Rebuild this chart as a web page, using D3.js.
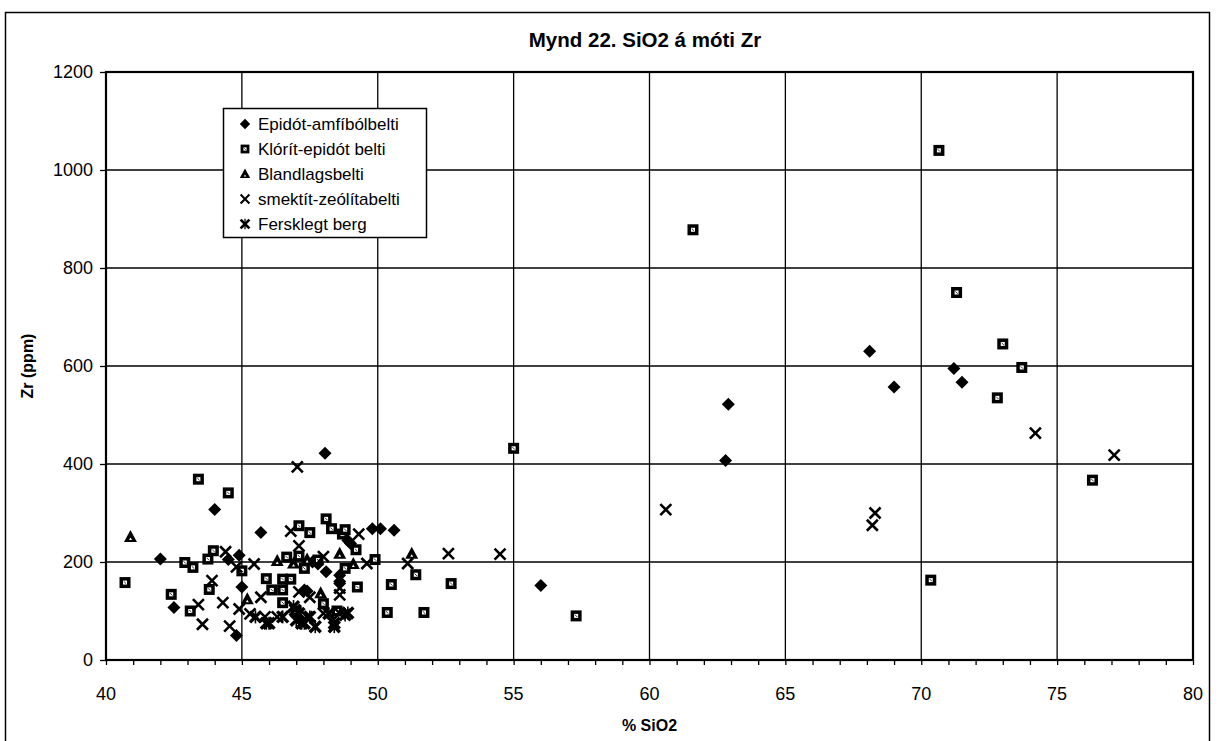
<!DOCTYPE html>
<html><head><meta charset="utf-8">
<script src="https://cdn.jsdelivr.net/npm/d3@7/dist/d3.min.js"></script>
<style>body{margin:0;background:#fff}svg{display:block}</style>
</head><body>
<svg id="c" width="1219" height="741"></svg>
<script>
const title = "Mynd 22. SiO2 á móti Zr";
const xLabel = "% SiO2";
const yLabel = "Zr (ppm)";
const xTicks = [40,45,50,55,60,65,70,75,80];
const yTicks = [0,200,400,600,800,1000,1200];
const seriesNames = ["Epidót-amfíbólbelti","Klórít-epidót belti","Blandlagsbelti","smektít-zeólítabelti","Fersklegt berg"];

const epidot = [[42.0,206],[42.5,107],[44.0,307],[44.5,205],[44.9,214],[45.0,149],[44.8,50],[45.7,260],[47.4,141],[47.6,200],[47.8,196],[48.1,180],[48.06,422],[48.6,173],[48.6,160],[48.9,244],[49.0,238],[49.8,268],[50.1,268],[50.6,265],[47.3,143],[56.0,152],[62.9,522],[62.8,407],[68.1,630],[69.0,557],[71.2,595],[71.5,567]];
const klorit = [[40.7,158],[42.4,134],[42.9,199],[43.1,100],[43.2,189],[43.4,369],[43.75,206],[43.8,144],[43.95,223],[44.5,341],[45.0,182],[45.9,166],[46.1,143],[46.5,165],[46.5,143],[46.5,117],[46.65,210],[46.8,165],[47.1,212],[47.1,274],[47.3,187],[47.5,260],[47.8,204],[48.0,115],[48.1,288],[48.3,268],[48.7,257],[48.8,266],[48.8,187],[49.2,225],[49.25,149],[49.9,205],[50.35,97],[50.5,154],[51.4,174],[51.7,97],[52.7,156],[55.0,432],[57.3,90],[61.6,878],[70.65,1040],[71.3,750],[73.0,645],[73.7,597],[72.8,535],[70.35,163],[76.3,367],[47.0,100],[48.5,100]];
const blandlag = [[40.9,251],[45.2,124],[46.3,202],[46.9,197],[47.9,136],[48.6,217],[49.1,196],[51.25,217],[47.4,205]];
const smektit = [[43.4,113],[43.55,73],[43.9,162],[44.3,117],[44.4,221],[44.55,69],[44.8,190],[44.9,104],[45.45,196],[45.7,128],[46.8,263],[47.04,394],[47.1,233],[47.1,139],[47.5,128],[48.0,211],[48.6,147],[48.6,133],[49.3,257],[49.6,197],[51.1,197],[52.6,217],[54.5,216],[60.6,307],[68.3,300],[68.2,275],[74.2,463],[77.1,418],[45.3,94],[45.85,88],[46.3,88],[46.95,102],[47.4,88],[48.0,95],[48.6,95]];
const fersk = [[45.5,88],[45.9,75],[46.0,75],[46.5,88],[47.0,81],[47.2,75],[46.9,109],[47.1,95],[47.3,75],[47.5,88],[47.7,68],[48.2,95],[48.4,75],[48.8,92],[48.4,68],[48.9,96]];

const svg = d3.select("#c");
const L=106, R=1193, T=72, B=660;
const x = d3.scaleLinear().domain([40,80]).range([L,R]);
const y = d3.scaleLinear().domain([0,1200]).range([B,T]);
const font = "'Liberation Sans', Arial, sans-serif";

// outer frame
svg.append("rect").attr("x",5.5).attr("y",12.5).attr("width",1204).attr("height",760)
  .attr("fill","none").attr("stroke","#000").attr("stroke-width",1.5);

// title
svg.append("text").attr("x",645).attr("y",47).attr("text-anchor","middle")
  .attr("font-family",font).attr("font-weight","bold").attr("font-size",20.5).text(title);

// gridlines
const g = svg.append("g");
g.selectAll(".vg").data(xTicks.slice(1,-1)).enter().append("line")
  .attr("x1",d=>x(d)).attr("x2",d=>x(d)).attr("y1",T).attr("y2",B).attr("stroke","#000").attr("stroke-width",1.3);
g.selectAll(".hg").data(yTicks.slice(1,-1)).enter().append("line")
  .attr("x1",L).attr("x2",R).attr("y1",d=>y(d)).attr("y2",d=>y(d)).attr("stroke","#000").attr("stroke-width",1.3);

// plot border
svg.append("rect").attr("x",L).attr("y",T).attr("width",R-L).attr("height",B-T)
  .attr("fill","none").attr("stroke","#000").attr("stroke-width",2.2);

// axes
const xAxis = d3.axisBottom(x).tickValues(d3.range(40,81,1)).tickSize(5).tickFormat("");
svg.append("g").attr("transform",`translate(0,${B})`).call(xAxis)
  .call(s=>{s.select(".domain").remove(); s.selectAll("line").attr("stroke","#000").attr("stroke-width",1.3);});
svg.append("g").selectAll("text").data(xTicks).enter().append("text")
  .attr("x",d=>x(d)).attr("y",700).attr("text-anchor","middle")
  .attr("font-family",font).attr("font-size",18).text(d=>d);

const yAxis = d3.axisLeft(y).tickValues(yTicks).tickSize(6).tickPadding(7).tickFormat(d3.format("d"));
svg.append("g").attr("transform",`translate(${L},0)`).call(yAxis)
  .call(s=>{s.select(".domain").remove(); s.selectAll("line").attr("stroke","#000").attr("stroke-width",1.3);
    s.selectAll("text").attr("font-family",font).attr("font-size",18).attr("fill","#000");});

svg.append("text").attr("x",x(60)).attr("y",731).attr("text-anchor","middle")
  .attr("font-family",font).attr("font-weight","bold").attr("font-size",16).text(xLabel);
svg.append("text").attr("transform",`translate(33,${(T+B)/2}) rotate(-90)`).attr("text-anchor","middle")
  .attr("font-family",font).attr("font-weight","bold").attr("font-size",16).text(yLabel);

// markers
function drawMarker(sel, type){
  if(type===0){
    sel.append("path").attr("d","M0,-6.5L6.5,0L0,6.5L-6.5,0Z").attr("fill","#000");
  } else if(type===1){
    sel.append("rect").attr("x",-5.5).attr("y",-5.5).attr("width",11).attr("height",11).attr("fill","#000");
    sel.append("rect").attr("x",-2).attr("y",-2).attr("width",4).attr("height",4).attr("fill","#fff");
    sel.append("path").attr("d","M-1.2,-1.2L1.2,1.2").attr("stroke","#000").attr("stroke-width",0.8);
  } else if(type===2){
    sel.append("path").attr("d","M0,-7L6.5,5L-6.5,5Z").attr("fill","#000");
    sel.append("path").attr("d","M0,0.5L1.5,3L-1.5,3Z").attr("fill","#fff");
  } else if(type===3){
    sel.append("path").attr("d","M-5.5,-5.5L5.5,5.5M5.5,-5.5L-5.5,5.5").attr("stroke","#000").attr("stroke-width",2.6).attr("fill","none");
  } else {
    sel.append("path").attr("d","M-5.5,-5.5L5.5,5.5M5.5,-5.5L-5.5,5.5").attr("stroke","#000").attr("stroke-width",3.4).attr("fill","none");
    sel.append("path").attr("d","M0,-6.5L0,6.5").attr("stroke","#000").attr("stroke-width",1.6);
  }
}
const allSeries = [epidot, klorit, blandlag, smektit, fersk];
const pts = svg.append("g");
allSeries.forEach((data,i)=>{
  pts.selectAll(".s"+i).data(data).enter().append("g")
    .attr("transform",d=>`translate(${x(d[0])},${y(d[1])})`)
    .each(function(){ drawMarker(d3.select(this), i); });
});

// legend
const lg = svg.append("g");
lg.append("rect").attr("x",223.5).attr("y",108.5).attr("width",203).attr("height",129)
  .attr("fill","#fff").attr("stroke","#000").attr("stroke-width",1.5);
seriesNames.forEach((n,i)=>{
  const yy = 124 + i*25;
  const m = lg.append("g").attr("transform",`translate(245,${yy}) scale(0.8)`);
  drawMarker(m,i);
  lg.append("text").attr("x",258).attr("y",yy+6).attr("font-family",font).attr("font-size",17).text(n);
});
</script>
</body></html>
